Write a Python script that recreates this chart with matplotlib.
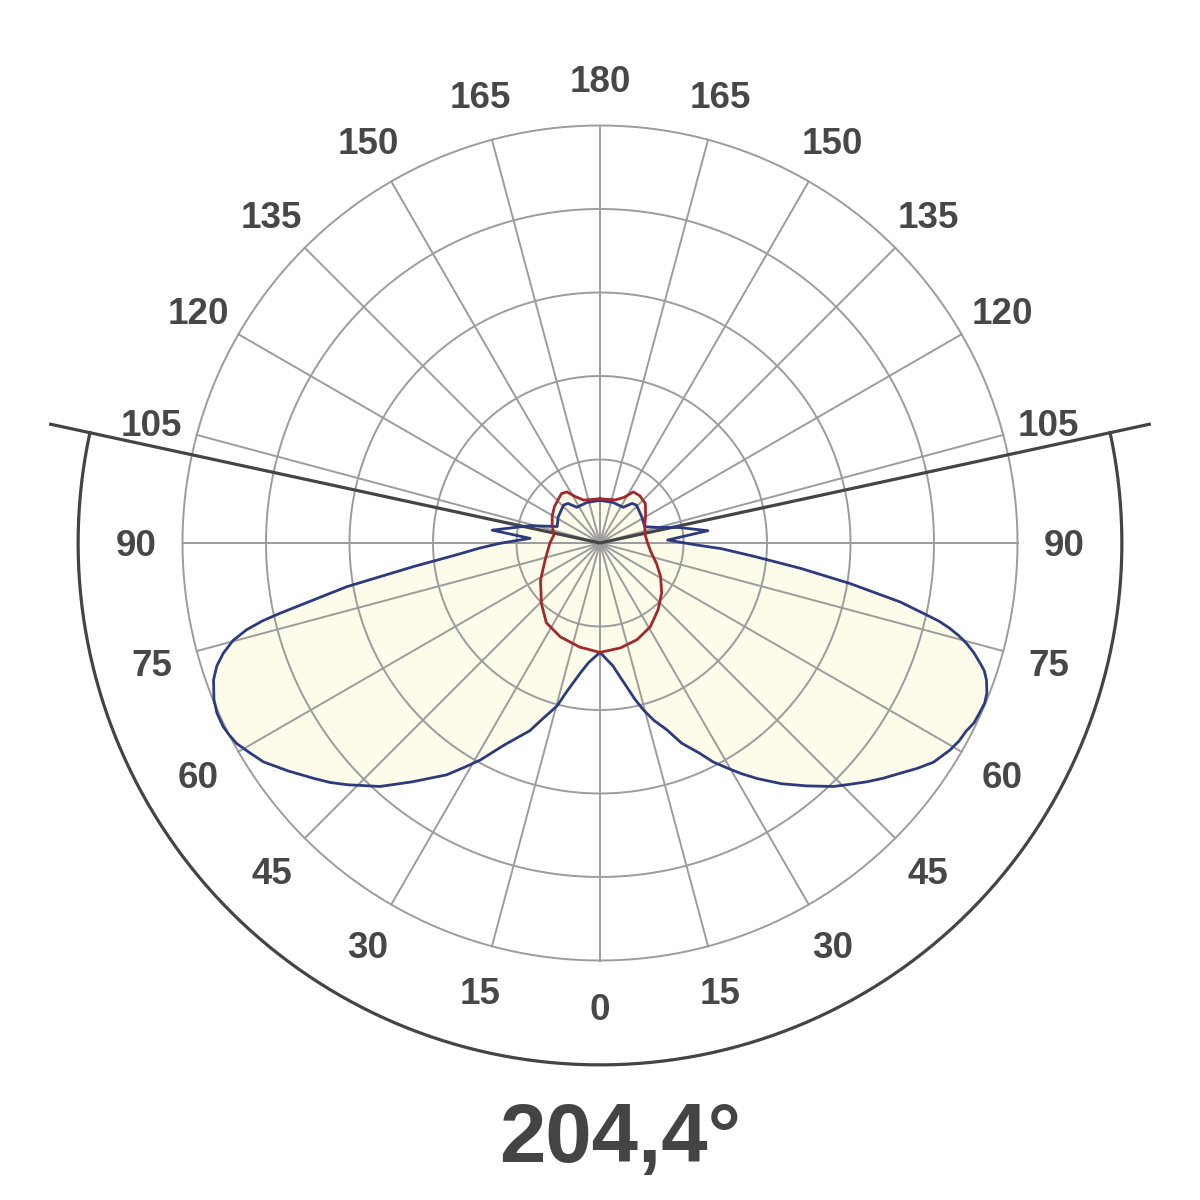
import numpy as np
import matplotlib
matplotlib.use("Agg")
import matplotlib.pyplot as plt
from matplotlib.transforms import offset_copy

# ---------------- data (gamma in degrees from nadir, intensity in cd/klm) -------------
# C0 plane (right half, blue)
c0_gamma = [0, 6, 8.5, 10.5, 12.5, 14.5, 16.9, 19.6, 22.2, 25.4, 27.3, 29.4, 31.5,
            33.7, 37, 40.4, 43.8, 46, 48.2, 50.3, 52.5, 54.6, 56.7, 59.4, 61.1,
            62.8, 64.3, 65.9, 67.4, 68.8, 70.5, 71.6, 72.4, 73.6, 74.7, 75.5, 76.3,
            77, 77.6, 78.9, 80.8, 82.8, 85, 87.3, 88.8, 92.5, 96.5, 101, 105, 110,
            122, 136, 141, 147, 162, 180]
c0_values = [131, 148, 162, 175, 191, 206, 222, 237, 259, 279, 295, 309, 324,
             339, 361, 382, 404, 416, 429, 441, 453, 466, 478, 487, 491,
             493, 497, 498, 499, 497, 491, 485, 478, 467, 455, 444, 431,
             417, 400, 366, 303, 242, 186, 146, 116, 81, 130, 97, 72, 57,
             59, 63, 61, 51, 51, 51]

# C180 plane (left half, blue)
c180_gamma = [0, 5.5, 8.7, 12.3, 14.8, 18, 20.5, 25.4, 28.9, 31.3, 33.5, 38.2,
              42.1, 46.3, 48.4, 50.6, 53.9, 57, 59.1, 61.1, 62.6, 64, 66, 67.9,
              70.5, 72.2, 73.7, 75.1, 76.2, 77, 77.6, 80.2, 82.8, 85.2, 87.6,
              89.8, 93.8, 96.8, 104, 111, 122, 136, 141, 147, 162, 180]
c180_values = [131, 144, 158, 180, 202, 221, 240, 268, 297, 315, 333, 364,
               393, 419, 432, 444, 463, 481, 489, 497, 500, 502, 502, 499,
               491, 482, 470, 455, 436, 415, 393, 308, 225, 174, 144,
               120, 84, 130, 86, 55, 59, 63, 61, 51, 51, 51]

# C90 plane (right half, red)
c90_gamma = [0, 11, 21, 31, 41, 51, 61, 70, 80, 90, 100, 110, 120, 131, 140, 147,
             152, 160, 170, 180]
c90_values = [131, 128, 124, 117, 106, 95, 83, 72, 62, 57, 55, 57, 63, 72, 74, 73,
              62, 55, 53, 53]

# C270 plane (left half, red)
c270_gamma = [0, 11, 23, 34, 44, 58, 74, 90, 100, 110, 120, 129, 142, 147, 152,
              159, 170, 180]
c270_values = [131, 127, 122, 115, 101, 84, 68, 60, 56, 61, 66, 70, 75, 73, 63,
               55, 53, 53]

ring_values = [100, 200, 300, 400, 500]
angle_labels = [0, 15, 30, 45, 60, 75, 90, 105, 120, 135, 150, 165, 180]
beam_angle = 204.4
title_text = "204,4°"

# ---------------- style --------------------------------------------------------------
FONT = "Liberation Sans"
GRID = "#9c9c9c"
DARK = "#444444"
BLUE = "#2d3a7e"
RED = "#a3282b"
FILL = "#fdfbea"
LABEL = "#474747"

W = H = 1200
cx, cy = 600, 543            # centre in pixels (from top-left)
px_per_unit = 83.5 / 100.0   # ring spacing 83.5 px per 100 cd/klm
R = 700
rad_px = R * px_per_unit

fig = plt.figure(figsize=(12, 12), dpi=100)
fig.patch.set_facecolor("white")
ax = fig.add_axes([(cx - rad_px) / W, (H - cy - rad_px) / H,
                   2 * rad_px / W, 2 * rad_px / H], projection="polar")
ax.set_theta_zero_location("S")
ax.set_theta_direction(1)
ax.set_ylim(0, R)
ax.set_axis_off()

d2r = np.deg2rad

def full_curve(left_g, left_v, right_g, right_v):
    th = np.concatenate([-d2r(np.array(left_g, float))[::-1], d2r(np.array(right_g, float))])
    rr = np.concatenate([np.array(left_v, float)[::-1], np.array(right_v, float)])
    return th, rr

blue_t, blue_r = full_curve(c180_gamma, c180_values, c0_gamma, c0_values)
red_t, red_r = full_curve(c270_gamma, c270_values, c90_gamma, c90_values)

# fills
ax.fill(blue_t, blue_r, color=FILL, lw=0, zorder=1)
ax.fill(red_t, red_r, color=FILL, lw=0, zorder=1)

# grid rings
circ = np.linspace(0, 2 * np.pi, 721)
for rv in ring_values:
    ax.plot(circ, np.full_like(circ, rv), color=GRID, lw=1.4, zorder=2)
# spokes every 15 degrees
for a in range(0, 360, 15):
    ax.plot([d2r(a), d2r(a)], [0, ring_values[-1]], color=GRID, lw=1.4, zorder=2)

# beam-angle lines and outer arc
half = beam_angle / 2.0
for s in (-1, 1):
    ax.plot([s * d2r(half)] * 2, [0, 675], color=DARK, lw=2.3, zorder=2.5,
            solid_capstyle="butt")
arc_t = np.linspace(-d2r(half), d2r(half), 600)
ax.plot(arc_t, np.full_like(arc_t, 625), color=DARK, lw=2.3, zorder=2.5)

# curves
ax.plot(blue_t, blue_r, color=BLUE, lw=2.0, zorder=3, solid_joinstyle="round")
ax.plot(red_t, red_r, color=RED, lw=2.0, zorder=4, solid_joinstyle="round")

# angle labels
lab_tr = offset_copy(ax.transData, fig=fig, x=0, y=-13, units="dots")
for g in angle_labels:
    sides = [g] if g in (0, 180) else [g, -g]
    for s in sides:
        ax.text(d2r(s), 556, str(g), transform=lab_tr, ha="center", va="baseline",
                fontsize=26.5, fontweight="bold", color=LABEL, family=FONT,
                clip_on=False, zorder=5)

# beam angle title
fig.text(620 / W, 1 - 1162 / H, title_text, ha="center", va="baseline",
         fontsize=60, fontweight="bold", color=DARK, family=FONT)

fig.savefig("out.png", dpi=100, facecolor="white")
